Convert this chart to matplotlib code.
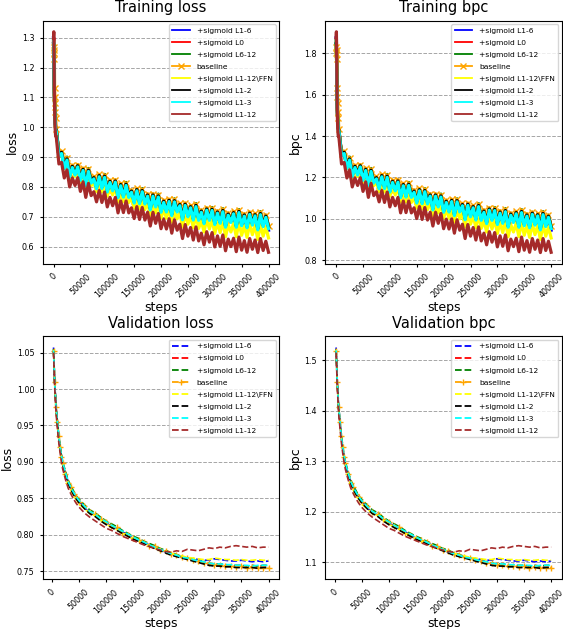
import matplotlib
matplotlib.use("Agg")
import matplotlib.pyplot as plt
import numpy as np

labels = ["+sigmoid L1-6", "+sigmoid L0", "+sigmoid L6-12", "baseline",
          "+sigmoid L1-12\\FFN", "+sigmoid L1-2", "+sigmoid L1-3",
          "+sigmoid L1-12"]
colors = ["blue", "red", "green", "orange", "yellow", "black", "cyan", "brown"]

# training loss, logged in thousandths
train_steps = [0, 500, 1000, 1500, 2000, 2500, 3000, 3500, 4000] + list(range(5000, 400001, 5000))

train_l1_6 = [1300, 1290, 1200, 1120, 1080, 1050, 1030, 1010, 1000,
              992, 909, 917, 867, 895, 839, 870, 845, 872, 827,
              860, 809, 857, 818, 832, 799, 839, 800, 837, 788,
              820, 792, 821, 769, 809, 771, 810, 770, 787, 751,
              792, 749, 789, 748, 774, 728, 774, 738, 771, 720,
              753, 721, 756, 709, 755, 721, 742, 695, 743, 705,
              735, 694, 739, 693, 720, 682, 727, 693, 726, 679,
              717, 683, 722, 670, 710, 686, 715, 670, 719, 675,
              707, 668, 713, 677, 708, 661, 712, 672, 703, 655]
train_l0 = [1290, 1300, 1210, 1130, 1080, 1050, 1030, 1010, 995,
            993, 910, 918, 868, 896, 840, 871, 846, 873, 828,
            861, 810, 858, 819, 833, 800, 840, 801, 838, 789,
            821, 793, 822, 770, 810, 772, 811, 771, 788, 752,
            793, 750, 790, 749, 775, 729, 775, 739, 772, 721,
            754, 722, 757, 710, 756, 722, 743, 696, 744, 706,
            736, 695, 740, 694, 721, 683, 728, 694, 727, 680,
            718, 684, 723, 671, 711, 687, 716, 671, 720, 676,
            708, 669, 714, 678, 709, 662, 713, 673, 704, 667]
train_l6_12 = [1280, 1270, 1200, 1120, 1075, 1045, 1025, 1010, 1000,
               994, 911, 919, 869, 900, 841, 872, 847, 874, 829,
               862, 811, 862, 820, 834, 801, 841, 802, 842, 790,
               822, 794, 823, 771, 811, 773, 815, 772, 789, 753,
               794, 751, 794, 750, 776, 730, 776, 740, 776, 722,
               755, 723, 758, 711, 760, 723, 744, 697, 745, 707,
               737, 696, 744, 695, 722, 684, 729, 695, 731, 681,
               719, 685, 727, 672, 712, 688, 717, 672, 724, 677,
               709, 670, 715, 679, 710, 663, 717, 674, 705, 668]
train_baseline = [1270, 1250, 1230, 1260, 1130, 1100, 1080, 1050, 1030,
                  995, 912, 920, 870, 898, 842, 873, 848, 875, 830,
                  863, 812, 860, 821, 835, 802, 842, 803, 840, 791,
                  823, 795, 824, 772, 812, 774, 813, 773, 790, 754,
                  795, 752, 792, 751, 777, 731, 777, 741, 774, 723,
                  756, 724, 759, 712, 758, 724, 745, 698, 746, 708,
                  738, 697, 742, 696, 723, 685, 730, 696, 729, 682,
                  720, 686, 725, 673, 713, 689, 718, 673, 722, 678,
                  710, 671, 716, 680, 711, 664, 715, 675, 706, 669]
train_l1_12_ffn = [1290, 1280, 1190, 1110, 1070, 1040, 1020, 1000, 990,
                   990, 905, 912, 861, 888, 831, 861, 835, 861, 815,
                   847, 796, 843, 804, 817, 784, 823, 783, 819, 769,
                   801, 773, 801, 749, 788, 750, 788, 748, 765, 729,
                   769, 726, 766, 724, 750, 704, 749, 713, 746, 695,
                   727, 695, 729, 682, 727, 693, 713, 666, 713, 675,
                   704, 663, 707, 661, 687, 649, 693, 659, 691, 644,
                   681, 647, 686, 633, 673, 649, 678, 633, 682, 638,
                   670, 631, 676, 640, 671, 624, 675, 635, 666, 629]
train_l1_2 = [1280, 1270, 1200, 1120, 1075, 1045, 1025, 1005, 995,
              991, 908, 916, 866, 894, 838, 869, 844, 871, 826,
              859, 808, 856, 817, 831, 798, 838, 799, 836, 787,
              819, 791, 820, 768, 808, 770, 809, 769, 786, 750,
              791, 748, 788, 747, 773, 727, 773, 737, 770, 719,
              752, 720, 755, 708, 754, 720, 741, 694, 742, 704,
              734, 693, 738, 692, 719, 681, 726, 692, 725, 678,
              716, 682, 721, 669, 709, 685, 714, 669, 718, 674,
              706, 667, 712, 676, 707, 660, 711, 671, 702, 665]
train_l1_3 = [1290, 1280, 1190, 1110, 1070, 1040, 1020, 1000, 990,
              987, 904, 912, 862, 890, 834, 865, 840, 867, 822,
              855, 804, 852, 813, 827, 794, 834, 795, 832, 783,
              815, 787, 816, 764, 804, 766, 805, 765, 782, 746,
              787, 744, 784, 743, 769, 723, 769, 733, 766, 715,
              748, 716, 751, 704, 750, 716, 737, 690, 738, 700,
              730, 689, 734, 688, 715, 677, 722, 688, 721, 674,
              712, 678, 717, 665, 705, 681, 710, 665, 714, 670,
              702, 663, 708, 672, 703, 656, 707, 667, 698, 661]
train_l1_12 = [1300, 1320, 1230, 1120, 1060, 1020, 995, 980, 970,
               970, 877, 882, 830, 857, 800, 830, 805, 831, 785,
               817, 765, 812, 771, 784, 750, 788, 748, 783, 733,
               765, 737, 765, 713, 753, 714, 753, 713, 730, 694,
               734, 691, 731, 689, 715, 669, 715, 678, 711, 660,
               692, 659, 693, 645, 690, 655, 675, 627, 674, 635,
               664, 622, 666, 619, 645, 606, 650, 615, 647, 599,
               636, 601, 639, 586, 625, 600, 628, 583, 632, 588,
               620, 581, 627, 591, 622, 580, 627, 587, 618, 581]

# validation loss
val_steps = [3000, 5000, 7500, 10000, 12500, 15000, 17500, 20000, 25000,
             30000, 35000, 40000, 45000, 50000] + list(range(60000, 400001, 10000))

val_l1_6 = [1.057, 1.012, 0.977, 0.956, 0.934, 0.920, 0.909, 0.897, 0.885, 0.873, 0.864, 0.856, 0.851, 0.846,
            0.837, 0.830, 0.827, 0.820, 0.817, 0.811, 0.809, 0.804, 0.800, 0.795, 0.792, 0.789, 0.786, 0.782, 0.780,
            0.776, 0.774, 0.771, 0.770, 0.768, 0.767, 0.766, 0.765, 0.765, 0.767, 0.766, 0.765, 0.764, 0.764, 0.765,
            0.764, 0.763, 0.764, 0.763, 0.764]
val_l0 = [1.053, 1.011, 0.973, 0.954, 0.936, 0.919, 0.908, 0.897, 0.883, 0.872, 0.863, 0.857, 0.850, 0.846,
          0.838, 0.832, 0.826, 0.822, 0.816, 0.813, 0.808, 0.804, 0.799, 0.797, 0.792, 0.789, 0.786, 0.783, 0.780,
          0.777, 0.774, 0.771, 0.770, 0.767, 0.766, 0.763, 0.762, 0.760, 0.760, 0.758, 0.758, 0.757, 0.756, 0.756,
          0.756, 0.755, 0.756, 0.755, 0.756]
val_l6_12 = [1.055, 1.013, 0.978, 0.957, 0.938, 0.923, 0.910, 0.900, 0.887, 0.875, 0.867, 0.860, 0.853, 0.849,
             0.841, 0.834, 0.830, 0.824, 0.819, 0.815, 0.811, 0.806, 0.802, 0.798, 0.795, 0.791, 0.788, 0.785, 0.781,
             0.779, 0.775, 0.773, 0.770, 0.768, 0.766, 0.764, 0.763, 0.761, 0.760, 0.760, 0.759, 0.758, 0.758, 0.758,
             0.757, 0.758, 0.757, 0.758, 0.758]
val_baseline = [1.052, 1.010, 0.975, 0.955, 0.935, 0.921, 0.907, 0.898, 0.884, 0.871, 0.865, 0.856, 0.852, 0.845,
                0.839, 0.831, 0.828, 0.821, 0.818, 0.812, 0.810, 0.803, 0.800, 0.796, 0.793, 0.790, 0.785, 0.784, 0.779,
                0.778, 0.773, 0.772, 0.769, 0.768, 0.765, 0.764, 0.761, 0.761, 0.759, 0.759, 0.757, 0.757, 0.756, 0.757,
                0.755, 0.756, 0.754, 0.755, 0.755]
val_l1_12_ffn = [1.054, 1.009, 0.972, 0.952, 0.933, 0.918, 0.905, 0.895, 0.880, 0.868, 0.861, 0.853, 0.849, 0.842,
                 0.836, 0.829, 0.826, 0.820, 0.815, 0.811, 0.807, 0.802, 0.799, 0.795, 0.791, 0.789, 0.785, 0.782, 0.780,
                 0.777, 0.775, 0.772, 0.771, 0.769, 0.768, 0.767, 0.766, 0.766, 0.768, 0.767, 0.766, 0.766, 0.765, 0.766,
                 0.765, 0.765, 0.766, 0.765, 0.765]
val_l1_2 = [1.052, 1.009, 0.974, 0.953, 0.934, 0.919, 0.906, 0.896, 0.882, 0.870, 0.862, 0.855, 0.849, 0.844,
            0.836, 0.829, 0.825, 0.819, 0.814, 0.810, 0.806, 0.802, 0.798, 0.794, 0.791, 0.788, 0.784, 0.781, 0.778,
            0.775, 0.772, 0.770, 0.768, 0.766, 0.764, 0.762, 0.760, 0.758, 0.757, 0.757, 0.756, 0.756, 0.755, 0.755,
            0.755, 0.755, 0.754, 0.755, 0.755]
val_l1_3 = [1.053, 1.011, 0.976, 0.956, 0.936, 0.921, 0.909, 0.899, 0.885, 0.873, 0.865, 0.858, 0.852, 0.847,
            0.839, 0.832, 0.828, 0.822, 0.818, 0.813, 0.809, 0.805, 0.801, 0.797, 0.793, 0.790, 0.786, 0.783, 0.780,
            0.777, 0.774, 0.772, 0.769, 0.768, 0.766, 0.764, 0.763, 0.761, 0.760, 0.760, 0.759, 0.759, 0.758, 0.758,
            0.758, 0.757, 0.758, 0.758, 0.758]
val_l1_12 = [1.050, 1.005, 0.968, 0.947, 0.928, 0.913, 0.900, 0.890, 0.876, 0.864, 0.856, 0.849, 0.843, 0.838,
             0.830, 0.824, 0.819, 0.814, 0.809, 0.806, 0.802, 0.798, 0.795, 0.792, 0.789, 0.786, 0.784, 0.781, 0.779,
             0.777, 0.776, 0.778, 0.777, 0.780, 0.779, 0.778, 0.780, 0.782, 0.781, 0.783, 0.782, 0.784, 0.785, 0.784,
             0.783, 0.784, 0.782, 0.783, 0.783]


def draw_panel(ax, steps, series, title, ylabel, dashed):
    style = "--" if dashed else "-"
    width = 1.2 if dashed else 2.3
    for vals, color, label in zip(series, colors, labels):
        if label == "baseline":
            ax.plot(steps, vals, style, color=color, label=label, lw=width,
                    marker="+" if dashed else "x", markersize=4, mew=1)
        else:
            ax.plot(steps, vals, style, color=color, label=label, lw=width)
    ax.set_title(title, fontsize=10.5)
    ax.set_xlabel("steps", fontsize=9, labelpad=1)
    ax.set_ylabel(ylabel, fontsize=9, labelpad=2)
    ax.set_xticks(range(0, 400001, 50000))
    ax.tick_params(labelsize=5.8, length=2.5)
    plt.setp(ax.get_xticklabels(), rotation=45)
    ax.grid(axis="y", linestyle="--", color="gray", alpha=0.7, lw=0.7)
    leg = ax.legend(loc="upper right", fontsize=5.4, labelspacing=0.77,
                    handlelength=2.3, handletextpad=0.95, borderpad=0.45,
                    borderaxespad=0.45)
    for line in leg.get_lines():
        line.set_linewidth(1.3)


def plot_graph():
    train_loss = [np.array(s) / 1000 for s in [train_l1_6, train_l0, train_l6_12, train_baseline,
                                               train_l1_12_ffn, train_l1_2, train_l1_3, train_l1_12]]
    val_loss = [np.array(s) for s in [val_l1_6, val_l0, val_l6_12, val_baseline,
                                      val_l1_12_ffn, val_l1_2, val_l1_3, val_l1_12]]
    # bits per character = loss (nats) / ln 2
    train_bpc = [s / np.log(2) for s in train_loss]
    val_bpc = [s / np.log(2) for s in val_loss]

    fig, axs = plt.subplots(2, 2, figsize=(5.63, 6.29), dpi=100)
    plt.subplots_adjust(left=0.076, right=0.998, bottom=0.079, top=0.967,
                        wspace=0.195, hspace=0.30)

    draw_panel(axs[0, 0], train_steps, train_loss, "Training loss", "loss", False)
    draw_panel(axs[0, 1], train_steps, train_bpc, "Training bpc", "bpc", False)
    draw_panel(axs[1, 0], val_steps, val_loss, "Validation loss", "loss", True)
    draw_panel(axs[1, 1], val_steps, val_bpc, "Validation bpc", "bpc", True)

    fig.savefig("out.png", dpi=100)


if __name__ == '__main__':
    plot_graph()
